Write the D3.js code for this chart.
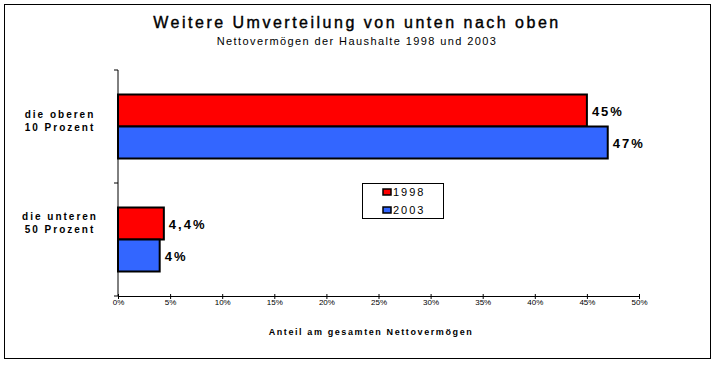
<!DOCTYPE html>
<html><head><meta charset="utf-8">
<script src="https://cdn.jsdelivr.net/npm/d3@7"></script>
<style>body{margin:0;background:#fff}svg{display:block}text{font-family:"Liberation Sans",Arial,sans-serif}</style>
</head><body><svg id="c" width="715" height="366"></svg>
<script>
const categories = ["die oberen\n10 Prozent", "die unteren\n50 Prozent"];
const seriesNames = ["1998", "2003"];
const values1998 = [45, 4.4];
const values2003 = [47, 4];
const labels1998 = ["45%", "4,4%"];
const labels2003 = ["47%", "4%"];
const xTicks = [0,5,10,15,20,25,30,35,40,45,50];
const colors = ["#ff0000", "#3366ff"];

const svg = d3.select("#c");
svg.append("rect").attr("x",4.5).attr("y",4.5).attr("width",706).attr("height",354)
  .attr("fill","#fff").attr("stroke","#000").attr("stroke-width",1);

const x = d3.scaleLinear().domain([0,50]).range([118,639]);
const y = d3.scaleBand().domain(categories).range([70,296]).paddingInner(0).paddingOuter(0);
const inner = d3.scaleBand().domain(seriesNames).range([0, 64]);
const bandOff = (y.bandwidth()-64)/2;

svg.append("text").attr("x",357).attr("y",28).attr("text-anchor","middle")
  .attr("font-size",16).attr("font-weight","normal").attr("letter-spacing",2.5).attr("stroke","#000").attr("stroke-width",0.4).text("Weitere Umverteilung von unten nach oben");
svg.append("text").attr("x",357).attr("y",45).attr("text-anchor","middle")
  .attr("font-size",11).attr("letter-spacing",1.4).text("Nettovermögen der Haushalte 1998 und 2003");

const data = categories.map((c,i)=>[{c,s:"1998",v:values1998[i],l:labels1998[i],col:colors[0]},{c,s:"2003",v:values2003[i],l:labels2003[i],col:colors[1]}]).flat();

svg.selectAll("rect.bar").data(data).join("rect").attr("class","bar")
  .attr("x",x(0)).attr("y",d=>y(d.c)+bandOff+inner(d.s))
  .attr("width",d=>x(d.v)-x(0)).attr("height",inner.bandwidth())
  .attr("fill",d=>d.col).attr("stroke","#000").attr("stroke-width",2);

svg.selectAll("text.val").data(data).join("text").attr("class","val")
  .attr("x",d=>x(d.v)+5).attr("y",d=>y(d.c)+bandOff+inner(d.s)+inner.bandwidth()/2+5)
  .attr("font-size",13).attr("font-weight","bold").attr("letter-spacing",2).text(d=>d.l);

// y axis
svg.append("line").attr("x1",118).attr("x2",118).attr("y1",70).attr("y2",296).attr("stroke","#000");
[70,183,296].forEach(t=>svg.append("line").attr("x1",114).attr("x2",118).attr("y1",t).attr("y2",t).attr("stroke","#000"));

// x axis
const xa = svg.append("g").attr("transform","translate(0,296)")
  .call(d3.axisBottom(x).tickValues(xTicks).tickFormat(d=>d+"%").tickSize(4).tickSizeOuter(0));
xa.select(".domain").attr("stroke","#000");
xa.selectAll(".tick line").attr("stroke","#000").attr("y1",-2).attr("y2",3);
xa.selectAll(".tick text").attr("font-size",8).attr("fill","#000").attr("font-family","Liberation Sans, Arial, sans-serif").attr("dy","0.3em");

svg.append("text").attr("x",371).attr("y",335).attr("text-anchor","middle")
  .attr("font-size",9).attr("font-weight","bold").attr("letter-spacing",1.6).text("Anteil am gesamten Nettovermögen");

// category labels
categories.forEach((c,ci)=>{
  const lines = c.split("\n");
  const cy = y(c)+y.bandwidth()/2;
  const top = ci===0 ? cy-9 : cy-20;
  lines.forEach((ln,i)=>{
    svg.append("text").attr("x",60).attr("y",top+i*13).attr("text-anchor","middle")
      .attr("font-size",10).attr("font-weight","bold").attr("letter-spacing",2).text(ln);
  });
});

// legend
const lg = svg.append("g");
lg.append("rect").attr("x",362.5).attr("y",183.5).attr("width",81).attr("height",35).attr("fill","#fff").attr("stroke","#000");
seriesNames.forEach((s,i)=>{
  lg.append("rect").attr("x",383).attr("y",189+i*18).attr("width",8).attr("height",6).attr("fill",colors[i]).attr("stroke","#000").attr("stroke-width",1.5);
  lg.append("text").attr("x",393).attr("y",196+i*18).attr("font-size",11).attr("letter-spacing",2).text(s);
});
</script></body></html>
